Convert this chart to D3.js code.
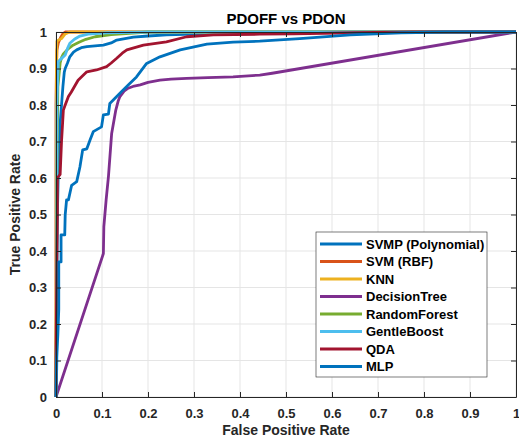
<!DOCTYPE html>
<html>
<head>
<meta charset="utf-8">
<script src="https://cdn.jsdelivr.net/npm/d3@7"></script>
<style>
  body { margin: 0; background: #fff; }
  svg { font-family: "Liberation Sans", Arial, sans-serif; font-weight: bold; }
</style>
</head>
<body>
<svg id="chart"></svg>
<script>
// series in legend order (same order MATLAB drew them)
const seriesNames = ["SVMP (Polynomial)", "SVM (RBF)", "KNN", "DecisionTree", "RandomForest", "GentleBoost", "QDA", "MLP"];
const seriesColors = ["#0072BD", "#D95319", "#EDB120", "#7E2F8E", "#77AC30", "#4DBEEE", "#A2142F", "#0072BD"];

const svmpFpr = [0, 0.001, 0.001, 0.003, 0.005, 0.009, 0.012, 0.015, 0.018, 0.02, 0.025, 0.03, 0.038, 0.045, 0.055, 0.067, 0.085, 0.103, 0.12, 0.132, 0.15, 0.168, 0.2, 0.24, 0.3, 0.4, 0.5, 0.6, 1];
const svmpTpr = [0, 0.1, 0.3, 0.5, 0.62, 0.75, 0.8, 0.85, 0.89, 0.9, 0.915, 0.932, 0.945, 0.951, 0.957, 0.96, 0.962, 0.964, 0.97, 0.978, 0.982, 0.986, 0.989, 0.992, 0.994, 0.997, 0.998, 1, 1];

const svmFpr = [0, 0, 0.001, 0.002, 0.005, 0.01, 0.015, 0.02, 1];
const svmTpr = [0, 0.8, 0.9, 0.95, 0.97, 0.985, 0.995, 1, 1];

const knnFpr = [0, 0.001, 0.002, 0.006, 0.012, 0.02, 0.03, 1];
const knnTpr = [0, 0.9, 0.975, 0.978, 0.982, 0.995, 1, 1];

const treeFpr = [0, 0.103, 0.104, 0.109, 0.114, 0.121, 0.13, 0.135, 0.139, 0.148, 0.157, 0.17, 0.183, 0.2, 0.226, 0.25, 0.284, 0.33, 0.385, 0.443, 0.47, 1];
const treeTpr = [0, 0.393, 0.467, 0.54, 0.604, 0.722, 0.786, 0.81, 0.823, 0.838, 0.846, 0.852, 0.855, 0.862, 0.868, 0.871, 0.873, 0.875, 0.877, 0.882, 0.887, 1];

const forestFpr = [0, 0.002, 0.004, 0.009, 0.012, 0.016, 0.025, 0.037, 0.05, 0.065, 0.085, 0.12, 0.2, 1];
const forestTpr = [0, 0.6, 0.85, 0.915, 0.93, 0.94, 0.952, 0.964, 0.972, 0.98, 0.987, 0.993, 1, 1];

const boostFpr = [0, 0.002, 0.002, 0.004, 0.005, 0.01, 0.02, 0.025, 0.03, 0.04, 0.052, 0.07, 0.11, 0.2, 1];
const boostTpr = [0, 0.1, 0.8, 0.88, 0.919, 0.925, 0.937, 0.955, 0.969, 0.98, 0.989, 0.994, 0.998, 1, 1];

const qdaFpr = [0, 0, 0.002, 0.003, 0.003, 0.009, 0.012, 0.016, 0.02, 0.027, 0.033, 0.038, 0.048, 0.058, 0.067, 0.088, 0.11, 0.12, 0.132, 0.144, 0.154, 0.19, 0.24, 0.284, 0.342, 0.443, 0.515, 0.65, 0.78, 1];
const qdaTpr = [0, 0.1, 0.38, 0.5, 0.6, 0.61, 0.7, 0.786, 0.8, 0.823, 0.835, 0.846, 0.868, 0.88, 0.891, 0.896, 0.905, 0.915, 0.928, 0.942, 0.951, 0.964, 0.973, 0.987, 0.992, 0.994, 0.995, 0.998, 1, 1];

const mlpFpr = [0, 0.001, 0.004, 0.006, 0.006, 0.011, 0.011, 0.019, 0.02, 0.023, 0.027, 0.034, 0.045, 0.052, 0.058, 0.067, 0.074, 0.081, 0.099, 0.103, 0.114, 0.117, 0.132, 0.145, 0.157, 0.175, 0.197, 0.226, 0.27, 0.328, 0.385, 0.443, 0.53, 0.64, 0.75, 0.85, 1];
const mlpTpr = [0, 0.1, 0.17, 0.24, 0.37, 0.37, 0.444, 0.444, 0.499, 0.54, 0.54, 0.58, 0.59, 0.63, 0.677, 0.68, 0.704, 0.727, 0.74, 0.773, 0.775, 0.804, 0.823, 0.84, 0.855, 0.877, 0.914, 0.932, 0.951, 0.967, 0.972, 0.975, 0.982, 0.992, 0.998, 1, 1];

const fprs = [svmpFpr, svmFpr, knnFpr, treeFpr, forestFpr, boostFpr, qdaFpr, mlpFpr];
const tprs = [svmpTpr, svmTpr, knnTpr, treeTpr, forestTpr, boostTpr, qdaTpr, mlpTpr];

const xTicks = [0, 0.1, 0.2, 0.3, 0.4, 0.5, 0.6, 0.7, 0.8, 0.9, 1];
const yTicks = [0, 0.1, 0.2, 0.3, 0.4, 0.5, 0.6, 0.7, 0.8, 0.9, 1];

const width = 519, height = 437;
const margin = {top: 32, right: 3, bottom: 40, left: 56};
const innerW = width - margin.left - margin.right;
const innerH = height - margin.top - margin.bottom;

const svg = d3.select("#chart").attr("width", width).attr("height", height);
const g = svg.append("g").attr("transform", `translate(${margin.left},${margin.top})`);

const x = d3.scaleLinear().domain([0, 1]).range([0, innerW]);
const y = d3.scaleLinear().domain([0, 1]).range([innerH, 0]);

const fmt = d => d === 0 || d === 1 ? String(d) : d.toFixed(1);

// grid
g.append("g").selectAll("line").data(xTicks).join("line")
    .attr("x1", d => x(d)).attr("x2", d => x(d))
    .attr("y1", 0).attr("y2", innerH)
    .attr("stroke", "#e5e5e5").attr("stroke-width", 1);
g.append("g").selectAll("line").data(yTicks).join("line")
    .attr("y1", d => y(d)).attr("y2", d => y(d))
    .attr("x1", 0).attr("x2", innerW)
    .attr("stroke", "#e5e5e5").attr("stroke-width", 1);

// curves
const line = d3.line().x(d => x(d[0])).y(d => y(d[1]));
seriesNames.forEach((name, i) => {
    const pts = fprs[i].map((f, j) => [f, tprs[i][j]]);
    g.append("path")
        .datum(pts)
        .attr("d", line)
        .attr("fill", "none")
        .attr("stroke", seriesColors[i])
        .attr("stroke-width", 2.8)
        .attr("stroke-linejoin", "round");
});

// axes, ticks pointing inward like MATLAB
const axisColor = "#262626";
const xAxis = g.append("g").attr("transform", `translate(0,${innerH})`)
    .call(d3.axisBottom(x).tickValues(xTicks).tickFormat(fmt).tickSizeInner(-5).tickSizeOuter(0).tickPadding(12));
const yAxis = g.append("g")
    .call(d3.axisLeft(y).tickValues(yTicks).tickFormat(fmt).tickSizeInner(-5).tickSizeOuter(0).tickPadding(9));
g.append("g").call(d3.axisTop(x).tickValues(xTicks).tickFormat("").tickSizeInner(-5).tickSizeOuter(0));
g.append("g").attr("transform", `translate(${innerW},0)`)
    .call(d3.axisRight(y).tickValues(yTicks).tickFormat("").tickSizeInner(-5).tickSizeOuter(0));

svg.selectAll(".domain, .tick line").attr("stroke", axisColor);
[xAxis, yAxis].forEach(a => a.selectAll("text")
    .attr("fill", axisColor).style("font-size", "13px").style("font-weight", "bold")
    .style("font-family", "'Liberation Sans', Arial, sans-serif"));

// labels
svg.append("text")
    .attr("x", margin.left + innerW / 2).attr("y", 24)
    .attr("text-anchor", "middle")
    .style("font-size", "15px").attr("fill", "#000")
    .text("PDOFF vs PDON");

svg.append("text")
    .attr("x", margin.left + innerW / 2).attr("y", 435)
    .attr("text-anchor", "middle")
    .style("font-size", "14px").attr("fill", axisColor)
    .text("False Positive Rate");

svg.append("text")
    .attr("transform", `translate(20,${margin.top + innerH / 2}) rotate(-90)`)
    .attr("text-anchor", "middle")
    .style("font-size", "14px").attr("fill", axisColor)
    .text("True Positive Rate");

// legend
const legend = svg.append("g").attr("transform", "translate(316,232)");
legend.append("rect")
    .attr("width", 171).attr("height", 145)
    .attr("fill", "#fff").attr("stroke", axisColor).attr("stroke-width", 0.6);
const rows = legend.selectAll("g.row").data(seriesNames).join("g")
    .attr("class", "row")
    .attr("transform", (d, i) => `translate(0,${12 + i * 17.5})`);
rows.append("line")
    .attr("x1", 4).attr("x2", 46)
    .attr("stroke", (d, i) => seriesColors[i]).attr("stroke-width", 2.8);
rows.append("text")
    .attr("x", 50).attr("dy", "0.35em")
    .style("font-size", "13px").attr("fill", "#000")
    .text(d => d);
</script>
</body>
</html>
